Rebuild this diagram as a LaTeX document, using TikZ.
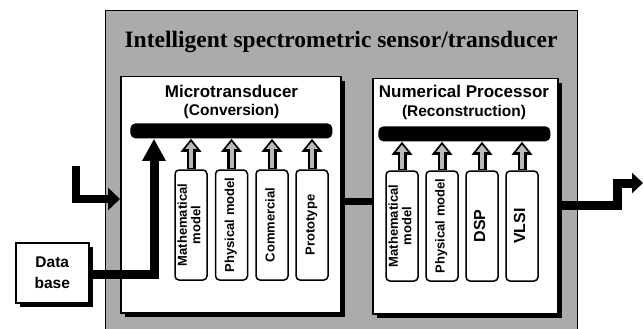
\documentclass[tikz,border=0pt]{standalone}
\usepackage{fontspec}
\usepackage{graphicx}
\usepackage{tikz}
\usetikzlibrary{arrows.meta}
\newfontfamily\labelfont{Liberation Sans}
\newfontfamily\headfont{Liberation Serif}
\newcommand{\vlabel}[1]{\rotatebox{90}{\begin{tabular}{@{}c@{}}#1\end{tabular}}}
\tikzset{every picture/.style={line width=0.75pt}}
\tikzset{
  sensorbox/.style={draw, fill=black!33, line width=1.2pt, inner sep=0pt, anchor=north west},
  panel/.style={draw, fill=white, line width=1.5pt, inner sep=0pt, anchor=north west},
  shade/.style={fill=black},
  bus/.style={fill=black, rounded corners=5pt, inner sep=0pt, anchor=north west, minimum height=15pt},
  module/.style={draw, fill=white, line width=1.5pt, rounded corners=4pt, inner sep=0pt,
    minimum width=32pt, minimum height=110pt, font=\labelfont\bfseries\fontsize{13}{13.5}\selectfont},
  bigmodule/.style={module, font=\labelfont\bfseries\fontsize{16}{16}\selectfont},
  heading/.style={font=\labelfont\bfseries\fontsize{17}{17}\selectfont, inner sep=0pt},
  subheading/.style={font=\labelfont\bfseries\fontsize{15.5}{15.5}\selectfont, inner sep=0pt},
  fatarrow/.style={line width=8pt, -{Triangle[length=12pt,width=22pt]}},
  uparrow/.style={line width=9pt, -{Triangle[length=13pt,width=20pt]},
    postaction={draw=black!28, line width=4pt, -{Triangle[length=7pt,width=11pt]}, shorten >=3pt, shorten <=1pt}}
}

\begin{document}
\begin{tikzpicture}[x=1pt,y=1pt,yscale=-1,xscale=1]
\clip (0,0) rectangle (643,329);

%Shape: Rectangle
\node[sensorbox, minimum width=472pt, minimum height=335pt] (sensor) at (105,10) {};
% Text Node
\node[font=\headfont\bfseries\fontsize{23.5}{24}\selectfont, inner sep=0pt] (title) at (341,42) {Intelligent spectrometric sensor/transducer};

%Shape: Rectangle (shadow)
\fill[shade] (20,247) rectangle (93,307);
\node[panel, minimum width=73pt, minimum height=60pt, align=center,
  font=\labelfont\bfseries\fontsize{15.5}{21}\selectfont] (db) at (15,242) {Data\\base};

%Shape: Rectangle (shadow)
\fill[shade] (125,81) rectangle (345,317);
\node[panel, minimum width=220pt, minimum height=236pt] (micro) at (120,76) {};
%Shape: Rectangle (shadow)
\fill[shade] (377,83) rectangle (562,318);
\node[panel, minimum width=185pt, minimum height=235pt] (numproc) at (372,78) {};

% Text Node
\node[heading] (microhead) at (231.5,91) {Microtransducer};
% Text Node
\node[subheading] (microsub) at (231.5,111) {(Conversion)};
% Text Node
\node[heading] (numhead) at (464,91) {Numerical Processor};
% Text Node
\node[subheading] (numsub) at (464,112) {(Reconstruction)};

%Shape: Rectangle
\node[bus, minimum width=202pt] (mbus) at (130,123) {};
%Shape: Rectangle
\node[bus, minimum width=172pt] (nbus) at (378,126) {};

%Shape: Rectangle
\node[module] (mmath) at (191,225) {\vlabel{Mathematical\\model}};
\node[module] (mphys) at (231.5,225) {\vlabel{Physical model}};
\node[module] (mcomm) at (272,225) {\vlabel{Commercial}};
\node[module] (mproto) at (312,225) {\vlabel{Prototype}};
%Shape: Rectangle
\node[module] (nmath) at (402,226) {\vlabel{Mathematical\\model}};
\node[module] (nphys) at (442,226) {\vlabel{Physical model}};
\node[bigmodule] (ndsp) at (482,226) {\vlabel{DSP}};
\node[bigmodule] (nvlsi) at (522,226) {\vlabel{VLSI}};

%Straight Lines
\draw[uparrow] (mmath.north) -- (mmath.north |- mbus.south);
\draw[uparrow] (mphys.north) -- (mphys.north |- mbus.south);
\draw[uparrow] (mcomm.north) -- (mcomm.north |- mbus.south);
\draw[uparrow] (mproto.north) -- (mproto.north |- mbus.south);
\draw[uparrow] (nmath.north) -- (nmath.north |- nbus.south);
\draw[uparrow] (nphys.north) -- (nphys.north |- nbus.south);
\draw[uparrow] (ndsp.north) -- (ndsp.north |- nbus.south);
\draw[uparrow] (nvlsi.north) -- (nvlsi.north |- nbus.south);

%Straight Lines
\draw[line width=9pt, -{Triangle[length=22pt,width=22pt]}] (db.east |- 0,274) -| (mbus.south -| 154,0);
%Straight Lines
\coordinate (feed) at (76,166);
\draw[fatarrow] (feed) |- (micro.west |- 0,199);
%Straight Lines
\draw[line width=7pt] (micro.east |- 0,201) -- (numproc.west |- 0,201);
%Straight Lines
\coordinate (outbend) at (617,183);
\coordinate (outend) at (643,183);
\draw[line width=9pt, -{Triangle[length=11pt,width=20pt]}] (numproc.east |- 0,205) -| (outbend) -- (outend);

\end{tikzpicture}
\end{document}
